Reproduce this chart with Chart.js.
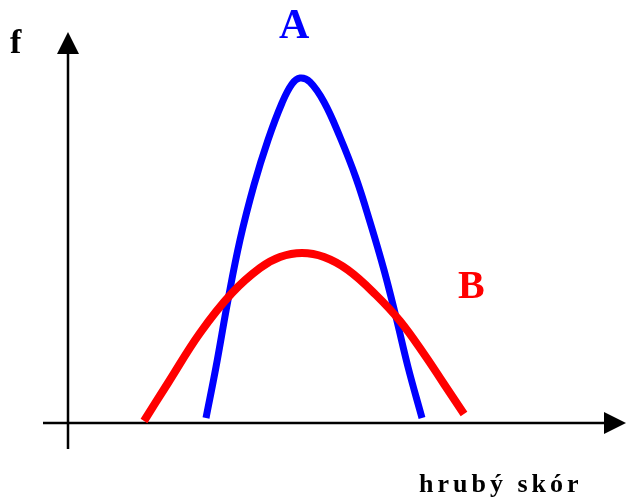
<!DOCTYPE html>
<html>
<head>
<meta charset="utf-8">
<script src="https://cdn.jsdelivr.net/npm/chart.js@4"></script>
<style>
  html, body { margin: 0; padding: 0; background: #ffffff; }
  #wrap { width: 628px; height: 501px; position: relative; }
</style>
</head>
<body>
<div id="wrap"><canvas id="curveChart"></canvas></div>
<script>
// score offsets from the origin, and frequency heights
const scoreA = [138, 148, 160, 172, 186, 200, 214, 224, 232, 242, 256, 272, 288, 302, 316, 328, 340, 354]
const freqA  = [5,   56,  123, 183, 238, 283, 320, 339, 345, 341, 321, 286, 245, 201, 153, 106, 56,  5]

const scoreB = [76, 100, 132, 164, 192, 212, 234, 256, 280, 308, 332, 356, 376, 396]
const freqB  = [2,  40,  90,  130, 155, 166, 170, 166, 153, 128, 102, 69,  39,  9]

const yTitle = "f"
const xTitle = "hrubý skór"
const nameA = "A"
const nameB = "B"

function toPoints(xs, ys){
    return xs.map((x, i) => ({ x: x, y: ys[i] }))
}

const axesPlugin = {
    id: "axesPlugin",
    beforeDatasetsDraw(chart){
        const ctx = chart.ctx
        const xs = chart.scales.x
        const ys = chart.scales.y
        const ox = xs.getPixelForValue(0)
        const oy = ys.getPixelForValue(0)
        ctx.save()
        ctx.strokeStyle = "#000000"
        ctx.fillStyle = "#000000"
        ctx.lineWidth = 2.5

        // y axis
        ctx.beginPath()
        ctx.moveTo(ox, oy + 26)
        ctx.lineTo(ox, 50)
        ctx.stroke()
        ctx.beginPath()
        ctx.moveTo(ox, 32)
        ctx.lineTo(ox - 11, 54)
        ctx.lineTo(ox + 11, 54)
        ctx.closePath()
        ctx.fill()

        // x axis
        ctx.beginPath()
        ctx.moveTo(43, oy)
        ctx.lineTo(608, oy)
        ctx.stroke()
        ctx.beginPath()
        ctx.moveTo(626, oy)
        ctx.lineTo(604, oy - 11)
        ctx.lineTo(604, oy + 11)
        ctx.closePath()
        ctx.fill()
        ctx.restore()
    },
    afterDraw(chart){
        const ctx = chart.ctx
        ctx.save()
        ctx.textBaseline = "alphabetic"
        ctx.textAlign = "left"

        ctx.fillStyle = "#000000"
        ctx.font = "bold 34px 'Liberation Serif'"
        ctx.fillText(yTitle, 10, 53)

        ctx.fillStyle = "#0000ff"
        ctx.font = "bold 42px 'Liberation Serif'"
        ctx.fillText(nameA, 279, 38)

        ctx.fillStyle = "#ff0000"
        ctx.font = "bold 40px 'Liberation Serif'"
        ctx.fillText(nameB, 458, 298)

        ctx.fillStyle = "#000000"
        ctx.font = "bold 26px 'Liberation Serif'"
        ctx.letterSpacing = "4px"
        ctx.fillText(xTitle, 419, 492)
        ctx.restore()
    }
}

new Chart(
    document.getElementById("curveChart"),
    {
        type: "scatter",
        data: {
            datasets: [
                {
                    label: nameB,
                    data: toPoints(scoreB, freqB),
                    showLine: true,
                    borderColor: "#ff0000",
                    borderWidth: 8,
                    pointRadius: 0,
                    tension: 0.4
                },
                {
                    label: nameA,
                    data: toPoints(scoreA, freqA),
                    showLine: true,
                    borderColor: "#0000ff",
                    borderWidth: 7,
                    pointRadius: 0,
                    tension: 0.4
                }
            ]
        },
        options: {
            responsive: true,
            maintainAspectRatio: false,
            animation: false,
            layout: { padding: 0 },
            plugins: {
                legend: { display: false },
                tooltip: { enabled: false }
            },
            scales: {
                x: { type: "linear", min: -68, max: 560, display: false },
                y: { type: "linear", min: -78, max: 423, display: false }
            }
        },
        plugins: [axesPlugin]
    }
)
</script>
</body>
</html>
